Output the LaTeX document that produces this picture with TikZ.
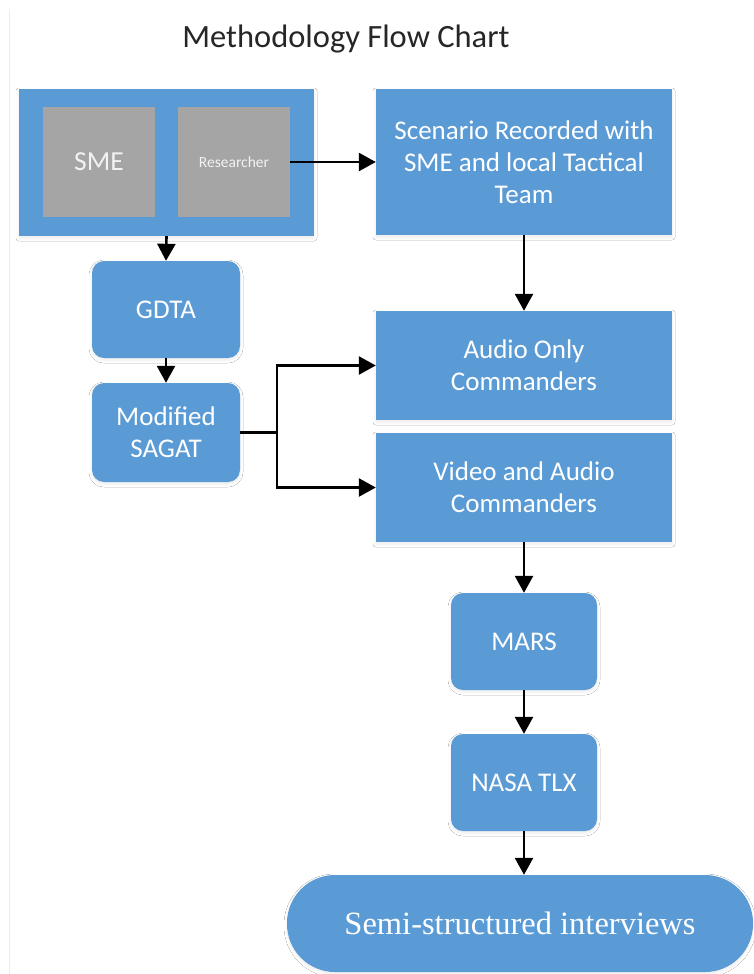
\documentclass[tikz,border=0pt]{standalone}
\usepackage{fontspec}
\setmainfont{Carlito}
\newfontfamily\serifface{Liberation Serif}
\usetikzlibrary{arrows.meta,shadows.blur}

\definecolor{boxblue}{HTML}{5B9BD5}
\definecolor{boxgray}{HTML}{A5A5A5}
\definecolor{titleink}{HTML}{262626}
\definecolor{edgeline}{HTML}{ECECEC}

\tikzset{
  softshadow/.style={blur shadow={shadow xshift=0pt, shadow yshift=-2pt,
      shadow blur radius=3pt, shadow blur steps=6, shadow opacity=8}},
  bluebox/.style={fill=boxblue, draw=none, text=white, align=center,
      inner sep=0pt, font=\fontsize{27}{32}\selectfont, softshadow},
  roundbox/.style={bluebox, rounded corners=12pt},
  graybox/.style={fill=boxgray, draw=none, text=white!95!black, align=center,
      inner sep=0pt, minimum width=112pt, minimum height=110pt},
  flow/.style={line width=2.6pt, -{Triangle[length=17pt,width=18pt]}},
}

\begin{document}
\begin{tikzpicture}[x=1pt, y=-1pt]
  \useasboundingbox (0,0) rectangle (754,974);
  \fill[white] (0,0) rectangle (754,974);
  \draw[edgeline, line width=1pt] (9.5,9) -- (9.5,974);

  % heading
  \node[anchor=base, text=titleink, font=\fontsize{32.5}{37}\selectfont]
    (title) at (346,48) {Methodology Flow Chart};

  % participants group
  \node[bluebox, minimum width=295pt, minimum height=147pt] (team) at (166.5,162.5) {};
  \node[graybox, font=\fontsize{27.5}{32}\selectfont] (sme) at (99,162) {SME};
  \node[graybox, font=\fontsize{15.5}{18}\selectfont] (res) at (234,162) {Researcher};

  % main boxes
  \node[bluebox, minimum width=296pt, minimum height=146pt] (scen) at (524,162)
    {Scenario Recorded with\\SME and local Tactical\\Team};
  \node[roundbox, minimum width=148pt, minimum height=97pt] (gdta) at (166,309.5) {GDTA};
  \node[roundbox, minimum width=148pt, minimum height=99pt] (sagat) at (166,432.5)
    {Modified\\SAGAT};
  \node[bluebox, minimum width=296pt, minimum height=109pt] (audio) at (524,365.5)
    {Audio Only\\Commanders};
  \node[bluebox, minimum width=296pt, minimum height=109pt] (video) at (524,487.5)
    {Video and Audio\\Commanders};
  \node[roundbox, minimum width=146pt, minimum height=97pt] (mars) at (524,641.5) {MARS};
  \node[roundbox, minimum width=146pt, minimum height=97pt] (nasa) at (524,782.5) {NASA TLX};
  \node[bluebox, rounded corners=48pt, minimum width=466pt, minimum height=97pt,
    font=\serifface\fontsize{32.5}{38}\selectfont] (semi) at (520,923.5)
    {Semi-structured interviews};

  % connectors
  \draw[flow] (res.east) -- (scen.west);
  \draw[flow] (team.south) -- (gdta.north);
  \draw[flow] (gdta.south) -- (sagat.north);
  \draw[flow] (scen.south) -- (audio.north);
  \coordinate (split) at (277,432.5);
  \draw[line width=2.6pt] (sagat.east) -- (split);
  \draw[flow] (split) |- (audio.west);
  \draw[flow] (split) |- (video.west);
  \draw[flow] (video.south) -- (mars.north);
  \draw[flow] (mars.south) -- (nasa.north);
  \draw[flow] (nasa.south) -- (nasa.south |- semi.north);
\end{tikzpicture}
\end{document}
